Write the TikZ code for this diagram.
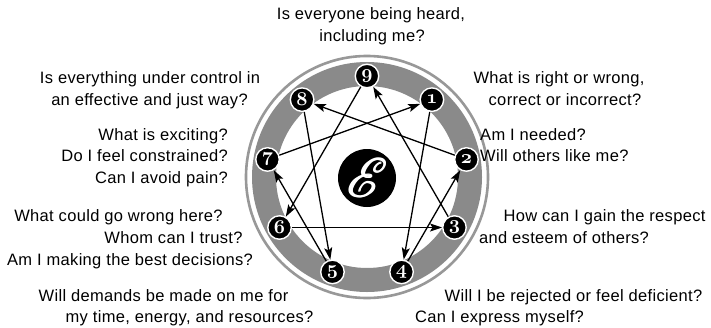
\documentclass[tikz,border=0pt]{standalone}
\usepackage{fontspec}
\setmainfont[LetterSpace=2]{Liberation Sans}
\usepackage{graphicx}
\usepackage{mathrsfs}
\usetikzlibrary{arrows.meta}
\definecolor{bandgray}{RGB}{138,138,138}
\definecolor{ringgray}{RGB}{152,152,152}
\newcommand\boldE{\rlap{\hspace{0.6pt}$\mathscr{E}$}\rlap{\raisebox{0.4pt}{\hspace{0.3pt}$\mathscr{E}$}}$\mathscr{E}$}
\newcommand\dig[1]{\scalebox{1.35}{#1}}
\begin{document}
\begin{tikzpicture}[x=1pt,y=-1pt,
  num/.style={circle, fill=black, draw=white, line width=1.4pt, minimum size=23.5pt,
    inner sep=0pt, text=white, font=\fontsize{14.4}{14.4}\usefont{OML}{cmm}{b}{it}},
  q/.style={inner sep=0pt, font=\fontsize{16.5}{19}\selectfont},
  arr/.style={line width=1.3pt, -{Stealth[length=12pt,width=8pt,inset=2.5pt]}},
]
\fill[white] (0,0) rectangle (711,327);
\useasboundingbox (0,0) rectangle (711,327);
\coordinate (c) at (367,177);
% rings
\draw[ringgray, line width=2.6pt] (c) circle[radius=121];
\draw[bandgray, line width=24pt] (c) circle[radius=103];
% centre
\node[circle, fill=black, minimum size=58pt, inner sep=0pt, text=white,
  font=\fontsize{24.88}{25}\selectfont] (ce) at (367,178) {\scalebox{2.2}{\boldE}};
% numbered points
\foreach \n/\a in {9/90,1/50,2/10,3/-30,4/-70,5/-110,6/-150,7/170,8/130}
  \node[num] (n\n) at ({367+101*cos(\a)},{177-101*sin(\a)}) {\dig{\n}};
% connectors
\draw[arr] (n1) -- (n4);
\draw[arr] (n4) -- (n2);
\draw[arr] (n2) -- (n8);
\draw[arr] (n8) -- (n5);
\draw[arr] (n5) -- (n7);
\draw[arr] (n7) -- (n1);
\draw[arr] (n9) -- (n6);
\draw[arr] (n6) -- (n3);
\draw[arr] (n3) -- (n9);
% questions
\node[q, anchor=base] (a1) at (371,19) {Is everyone being heard,};
\node[q, anchor=base] (a2) at (372,41) {including me?};
\node[q, anchor=base] (b1) at (150,83) {Is everything under control in};
\node[q, anchor=base] (b2) at (149.5,105.5) {an effective and just way?};
\node[q, anchor=base east] (c1) at (228,140) {What is exciting?};
\node[q, anchor=base east] (c2) at (228,161.5) {Do I feel constrained?};
\node[q, anchor=base east] (c3) at (228,183) {Can I avoid pain?};
\node[q, anchor=base] (d1) at (118.5,221) {What could go wrong here?};
\node[q, anchor=base] (d2) at (173.5,243) {Whom can I trust?};
\node[q, anchor=base] (d3) at (130,265) {Am I making the best decisions?};
\node[q, anchor=base] (e1) at (163.5,301) {Will demands be made on me for};
\node[q, anchor=base] (e2) at (189.5,322) {my time, energy, and resources?};
\node[q, anchor=base] (f1) at (559,83) {What is right or wrong,};
\node[q, anchor=base] (f2) at (565,105.5) {correct or incorrect?};
\node[q, anchor=base west] (g1) at (480,140) {Am I needed?};
\node[q, anchor=base west] (g2) at (480,161.5) {Will others like me?};
\node[q, anchor=base] (h1) at (604.5,221) {How can I gain the respect};
\node[q, anchor=base] (h2) at (564,243) {and esteem of others?};
\node[q, anchor=base] (i1) at (573.5,301) {Will I be rejected or feel deficient?};
\node[q, anchor=base] (i2) at (499.5,322) {Can I express myself?};
\end{tikzpicture}
\end{document}
